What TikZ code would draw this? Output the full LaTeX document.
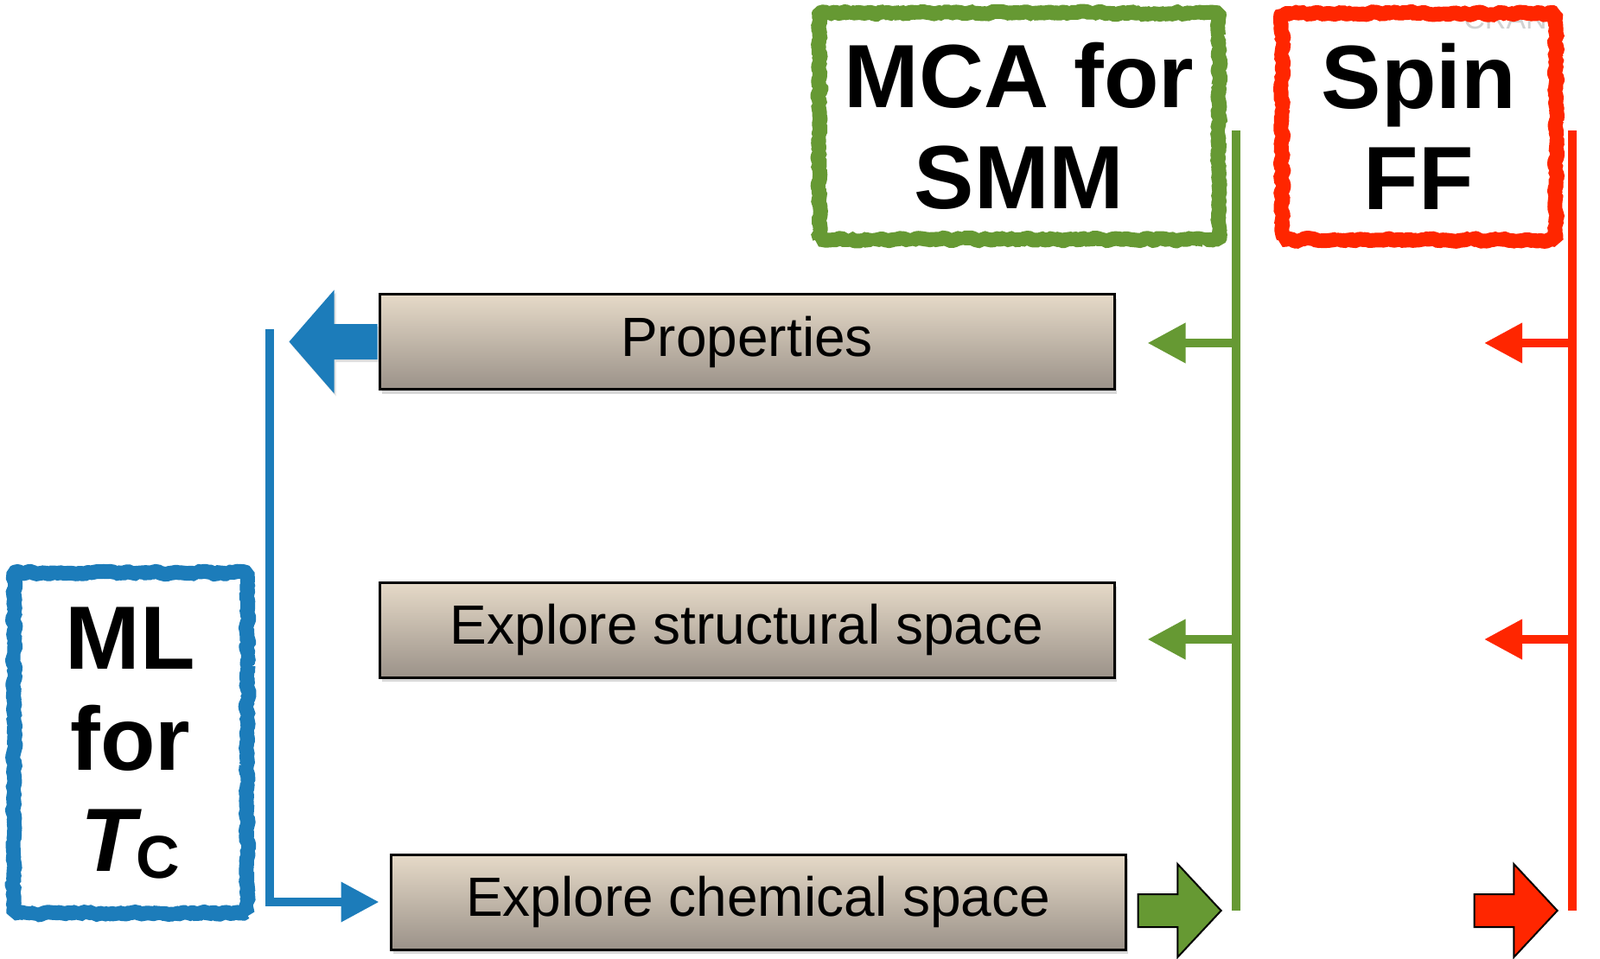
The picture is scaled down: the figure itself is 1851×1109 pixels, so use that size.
\documentclass[tikz,border=0pt]{standalone}
\usepackage{fontspec}
\setmainfont{Liberation Sans}
\usetikzlibrary{arrows.meta,shapes.arrows,shadows,decorations.pathmorphing}
\definecolor{mcagreen}{HTML}{669933}
\definecolor{spinred}{HTML}{FF2600}
\definecolor{mlblue}{HTML}{1C7CBA}
\definecolor{boxtop}{HTML}{E6DAC8}
\definecolor{boxbot}{HTML}{9B9289}
\tikzset{
  taskbox/.style={draw=black, line width=1.5pt, top color=boxtop, bottom color=boxbot,
    minimum width=425pt, minimum height=55pt, inner sep=0pt, font=\fontsize{32}{36}\selectfont,
    drop shadow={opacity=0.3, shadow xshift=1.5pt, shadow yshift=-2.5pt}},
  roughbox/.style={draw=#1, line width=8.5pt, line join=bevel, decorate,
    decoration={random steps, segment length=1.8pt, amplitude=1pt},
    inner sep=0pt, align=center, font=\fontsize{52}{58.5}\selectfont\bfseries},
  feedline/.style={line width=5pt},
  feedarrow/.style={line width=5pt, -{Triangle[length=22pt,width=22pt]}},
  bigarrow/.style={single arrow, draw=black, line width=1pt, inner xsep=0pt, inner ysep=9pt,
    minimum height=48pt, single arrow head extend=17.5pt, single arrow tip angle=94}
}
\begin{document}
\begin{tikzpicture}[x=0.5pt, y=-0.5pt]
\path[use as bounding box, fill=white] (0,0) rectangle (1851,1109);
\node[anchor=base west, text=gray!35, font=\fontsize{17}{17}\selectfont, inner sep=0pt] (crani) at (1693,33) {CRANI};
\node[roughbox=mcagreen, minimum width=231pt, minimum height=131pt] (MCA) at (1179,146) {MCA for\\SMM};
\node[roughbox=spinred, minimum width=158.5pt, minimum height=131pt] (Spin) at (1641.5,146.5) {Spin\\FF};
\node[roughbox=mlblue, minimum width=135pt, minimum height=197pt] (ML) at (151,860) {ML\\for\\{\itshape T}\raisebox{-4pt}{\fontsize{35}{35}\selectfont C}};
\node[taskbox] (Prop) at (864,395.5) {Properties};
\node[taskbox] (Struct) at (864,729) {Explore structural space};
\node[taskbox] (Chem) at (877,1044) {Explore chemical space};
\coordinate (mcaTop) at (1430,151);
\coordinate (mcaBot) at (1430,1054);
\coordinate (spinTop) at (1819,151);
\coordinate (spinBot) at (1819,1054);
\coordinate (mlTop) at (312,381);
\foreach \row/\yy in {P/397, S/740} {
  \coordinate (g\row) at (1430,\yy);
  \coordinate (r\row) at (1819,\yy);
}
\draw[feedline, mcagreen] (mcaTop) -- (mcaBot);
\draw[feedline, spinred] (spinTop) -- (spinBot);
\draw[feedarrow, mcagreen] (gP) -- ([xshift=18.5pt]gP -| Prop.east);
\draw[feedarrow, mcagreen] (gS) -- ([xshift=18.5pt]gS -| Struct.east);
\draw[feedarrow, spinred] (rP) -- ([xshift=-51pt]rP);
\draw[feedarrow, spinred] (rS) -- ([xshift=-51pt]rS);
\draw[feedarrow, mlblue, line join=miter] (mlTop) |- ([xshift=-6pt]Chem.west);
\node[bigarrow, draw=none, fill=mlblue, inner ysep=9.75pt, minimum height=51pt,
  single arrow head extend=19.75pt, single arrow tip angle=98, shape border rotate=180,
  anchor=tail, drop shadow={opacity=0.25, shadow xshift=1pt, shadow yshift=-1.5pt}] (propOut) at (Prop.west) {};
\node[bigarrow, fill=mcagreen, anchor=tip] (mcaIn) at ([xshift=-8pt]mcaBot) {};
\node[bigarrow, fill=spinred, anchor=tip] (spinIn) at ([xshift=-8pt]spinBot) {};
\end{tikzpicture}
\end{document}
